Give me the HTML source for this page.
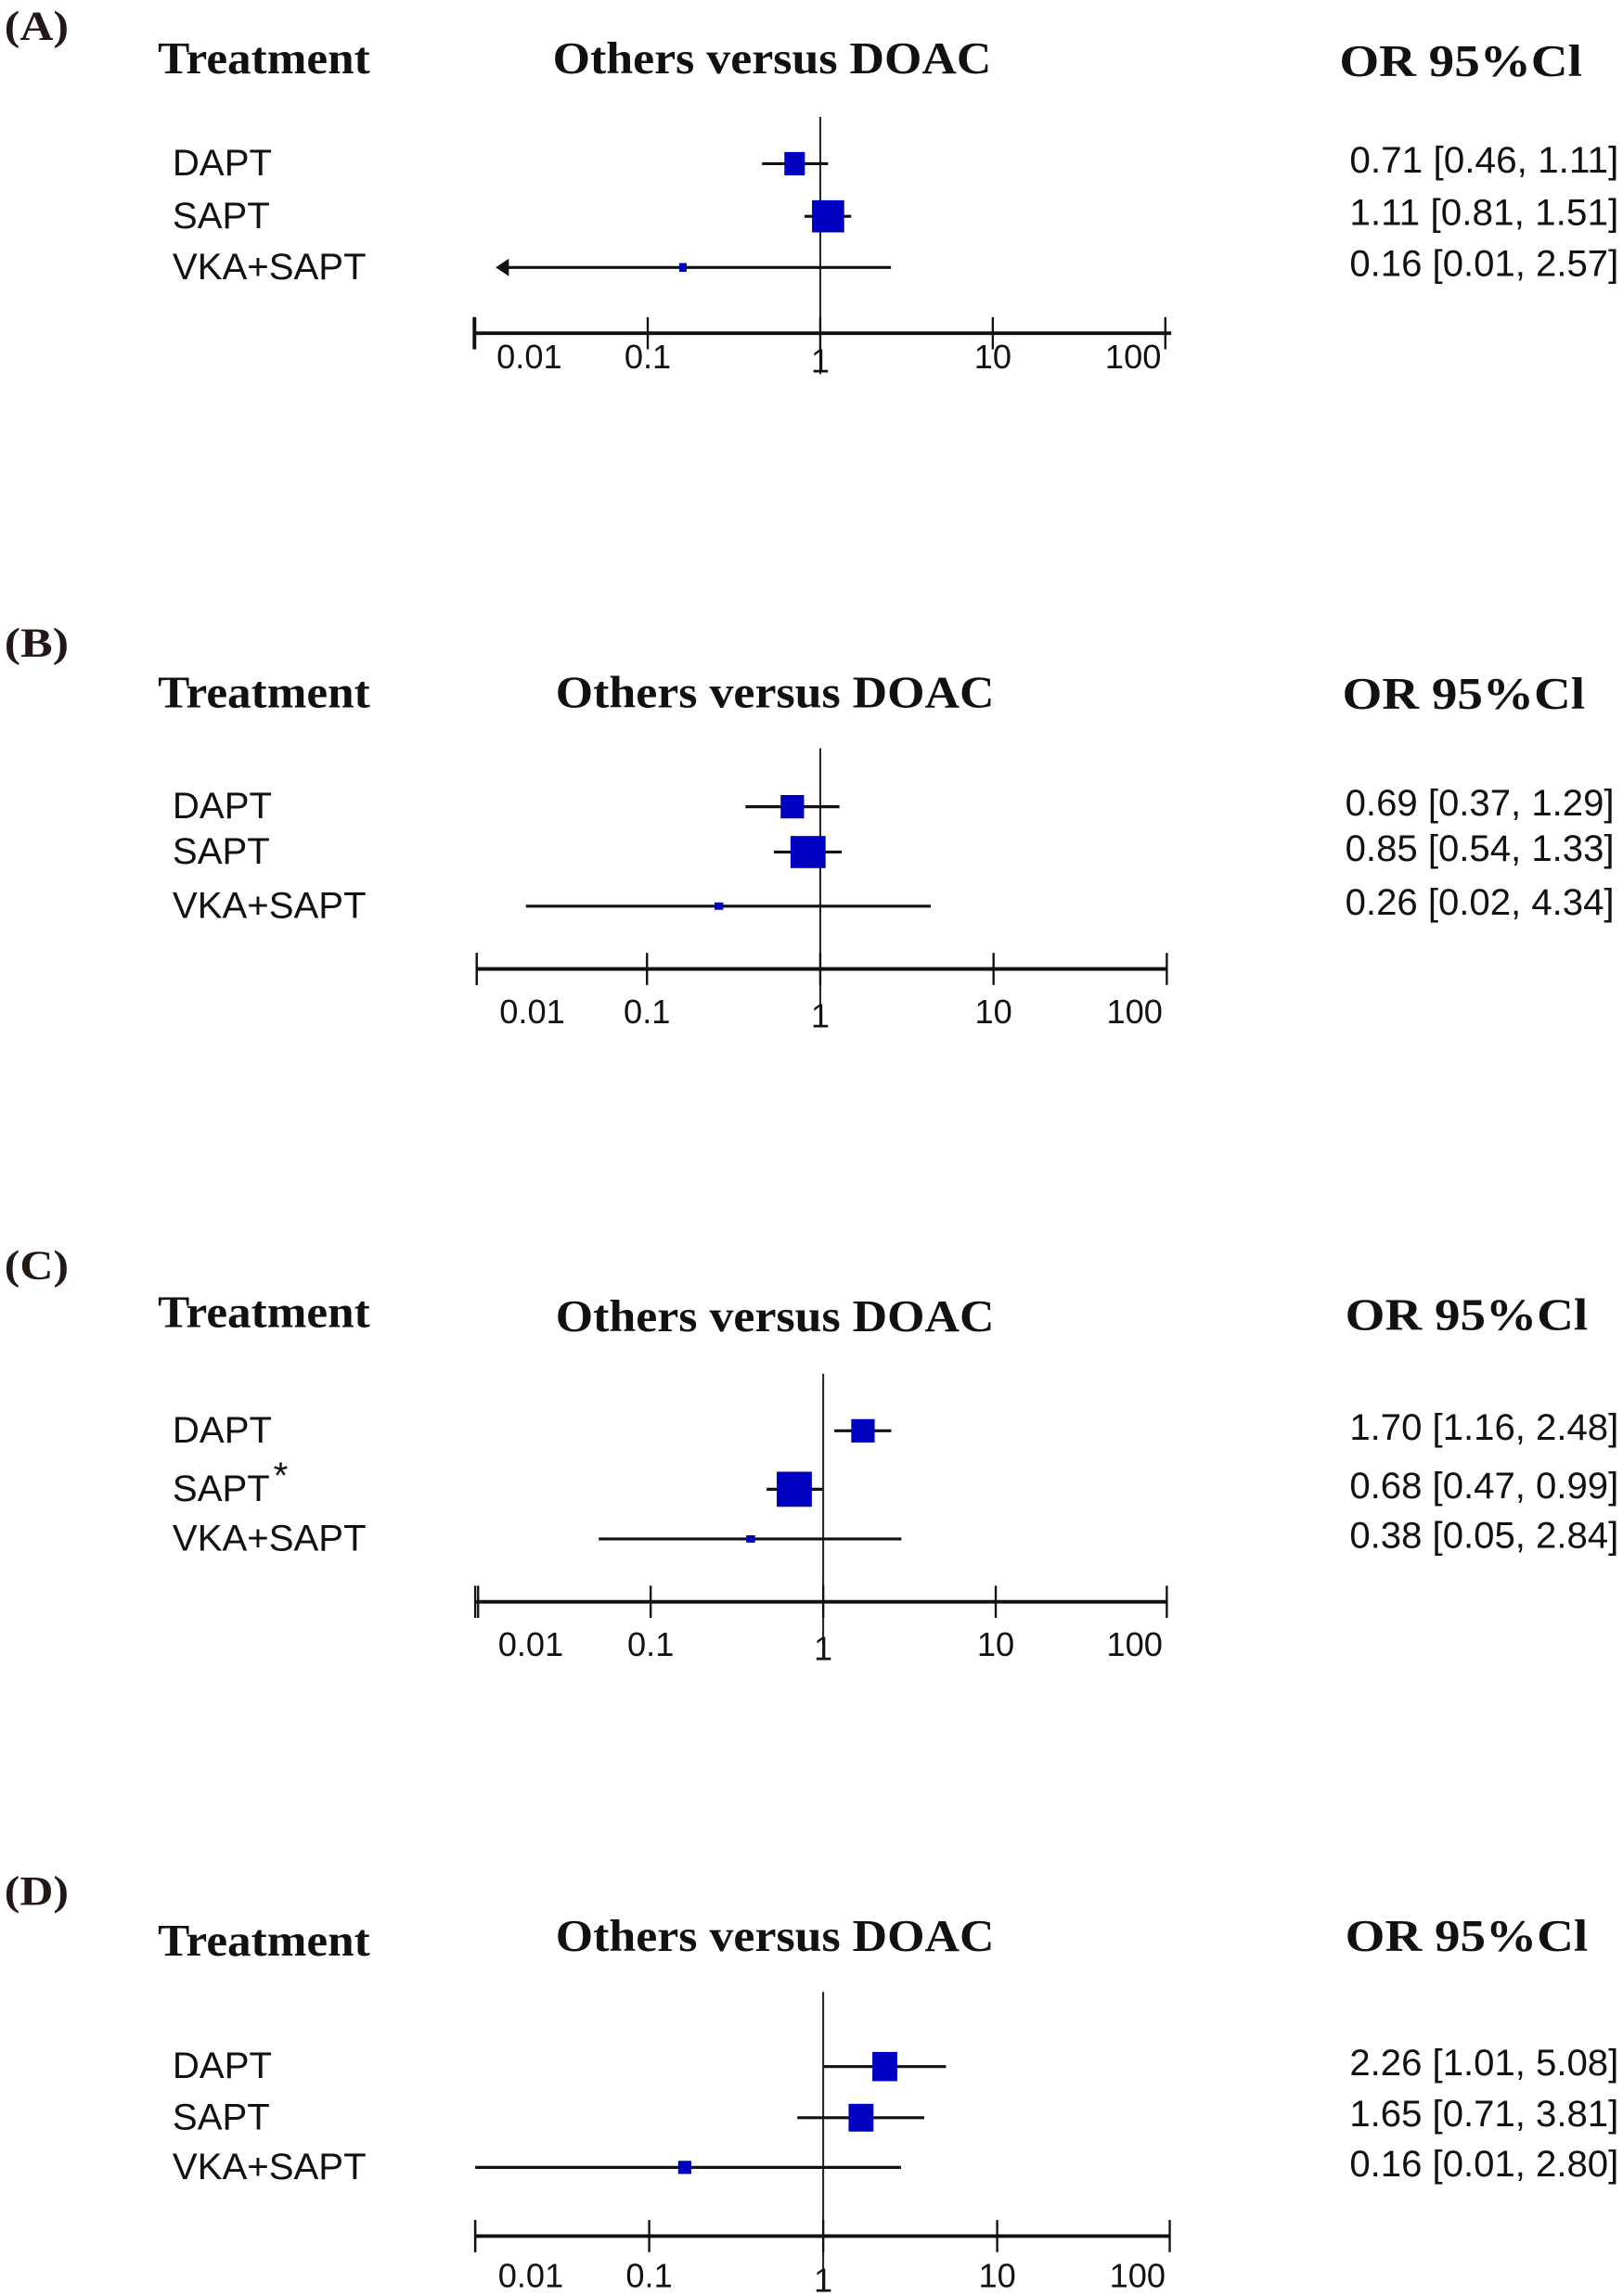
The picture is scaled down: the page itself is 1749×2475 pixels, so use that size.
<!DOCTYPE html>
<html><head><meta charset="utf-8"><style>
html,body{margin:0;padding:0;background:#fff;}
svg{display:block;}
.pl{font-family:"Liberation Serif",serif;font-weight:bold;font-size:28px;fill:#231815;}
.hd{font-family:"Liberation Serif",serif;font-weight:bold;font-size:31px;fill:#111;}
.rl{font-family:"Liberation Sans",sans-serif;font-size:25.5px;fill:#111;}
.tk{font-family:"Liberation Sans",sans-serif;font-size:23px;fill:#111;}
</style></head><body>
<svg id="chart" width="1749" height="2475" viewBox="0 0 1110 1571" preserveAspectRatio="none" xmlns="http://www.w3.org/2000/svg"></svg>
<script>
const panelLabels = ["(A)","(B)","(C)","(D)"];
const treatments = ["DAPT","SAPT","VKA+SAPT"];
const orA = [0.71,1.11,0.16], loA = [0.46,0.81,0.01], hiA = [1.11,1.51,2.57];
const orB = [0.69,0.85,0.26], loB = [0.37,0.54,0.02], hiB = [1.29,1.33,4.34];
const orC = [1.70,0.68,0.38], loC = [1.16,0.47,0.05], hiC = [2.48,0.99,2.84];
const orD = [2.26,1.65,0.16], loD = [1.01,0.71,0.01], hiD = [5.08,3.81,2.80];
const ciTextA = ["0.71 [0.46, 1.11]","1.11 [0.81, 1.51]","0.16 [0.01, 2.57]"];
const ciTextB = ["0.69 [0.37, 1.29]","0.85 [0.54, 1.33]","0.26 [0.02, 4.34]"];
const ciTextC = ["1.70 [1.16, 2.48]","0.68 [0.47, 0.99]","0.38 [0.05, 2.84]"];
const ciTextD = ["2.26 [1.01, 5.08]","1.65 [0.71, 3.81]","0.16 [0.01, 2.80]"];
const tickVals = [0.01,0.1,1,10,100];
const tickLabels = ["0.01","0.1","1","10","100"];

const NS="http://www.w3.org/2000/svg";
const svg=document.getElementById('chart');
function mk(tag,attrs,parent){const e=document.createElementNS(NS,tag);for(const k in attrs)e.setAttribute(k,attrs[k]);(parent||svg).appendChild(e);return e;}

const layouts=[
 {or:orA,lo:loA,hi:hiA,txt:ciTextA,c:561,d:118,xmin:324,xmax:801,lab:18,hdT:50,hdO:50,hdR:52,rows:[112,148,183],axis:228,tk:252,vl:[80,256],sz:[[14,16],[22,22],[5,6]],arrow:true,orX:1107,oX:378,rX:916},
 {or:orB,lo:loB,hi:hiB,txt:ciTextB,c:561,d:118.5,xmin:326,xmax:798,lab:440,hdT:484,hdO:484,hdR:485,rows:[552,583,620],axis:663,tk:700,vl:[512,690],sz:[[16,16],[24,22],[6,5]],arrow:false,orX:1104,oX:380,rX:918},
 {or:orC,lo:loC,hi:hiC,txt:ciTextC,c:563,d:118,xmin:325,xmax:798,lab:866,hdT:908,hdO:911,hdR:910,rows:[979,1019,1053],axis:1096,tk:1133,vl:[940,1125],sz:[[16,16],[24,24],[6,5]],arrow:false,orX:1107,oX:380,rX:920},
 {or:orD,lo:loD,hi:hiD,txt:ciTextD,c:563,d:119,xmin:325,xmax:800,lab:1294,hdT:1338,hdO:1335,hdR:1335,rows:[1414,1449,1483],axis:1530,tk:1565,vl:[1363,1568],sz:[[17,20],[17,19],[9,9]],arrow:false,orX:1107,oX:380,rX:920}
];

layouts.forEach((L,p)=>{
 const g=mk('g',{});
 
 
 const x=v=>L.c+L.d*Math.log10(v);
 let t=mk('text',{x:3,y:L.lab+9,class:'pl',textLength:44,lengthAdjust:'spacingAndGlyphs'},g);t.textContent=panelLabels[p];
 
 
 t=mk('text',{x:108,y:L.hdT,class:'hd',textLength:145,lengthAdjust:'spacingAndGlyphs'},g);t.textContent='Treatment';
 
 
 t=mk('text',{x:L.oX,y:L.hdO,class:'hd',textLength:300,lengthAdjust:'spacingAndGlyphs'},g);t.textContent='Others versus DOAC';
 
 
 t=mk('text',{x:L.rX,y:L.hdR,class:'hd',textLength:166,lengthAdjust:'spacingAndGlyphs'},g);t.textContent='OR  95%Cl';
 
 
 let ln=mk('line',{x1:x(1),x2:x(1),y1:L.vl[0],y2:L.vl[1],stroke:'#222','stroke-width':1.3},g);
 
 
 ln=mk('line',{x1:L.xmin,x2:L.xmax,y1:L.axis,y2:L.axis,stroke:'#111','stroke-width':2.5},g);
 
 
 mk('line',{x1:L.xmin,x2:L.xmin,y1:L.axis-11,y2:L.axis+11,stroke:'#111','stroke-width':1.5},g);
 tickVals.forEach((v,i)=>{
  const tx=Math.max(L.xmin,Math.min(L.xmax,x(v)));
  const tl=mk('line',{x1:tx,x2:tx,y1:L.axis-11,y2:L.axis+11,stroke:'#111','stroke-width':1.5},g);
  
  
  const lx = i===0 ? L.xmin+38 : (i===4 ? tx-22 : tx);
  const ly = i===2 ? L.tk+3 : L.tk;
  const tt=mk('text',{x:lx,y:ly,class:'tk','text-anchor':'middle'},g);
  tt.textContent=tickLabels[i];
  
  
 });
 treatments.forEach((nm,r)=>{
  const y=L.rows[r];
  let rt=mk('text',{x:118,y:y+8,class:'rl'},g);rt.textContent=nm;
  
  
  if(p===2&&r===1){let s=mk('text',{x:187,y:y-1,class:'rl','font-size':28},g);s.textContent='*';
   
   }
  let x1=x(L.lo[r]);
  const useArrow=L.arrow&&r===2;
  if(useArrow) x1=342;
  const ci=mk('line',{x1:x1,x2:x(L.hi[r]),y1:y,y2:y,stroke:'#111','stroke-width':2},g);
  
  
  if(useArrow){const a=mk('polygon',{points:`${x1-3},${y} ${x1+6},${y-6} ${x1+6},${y+6}`,fill:'#111'},g);
   
   }
  const [w,h]=L.sz[r];
  const sq=mk('rect',{x:x(L.or[r])-w/2,y:y-h/2,width:w,height:h,fill:'#0000c0'},g);
  
  
  const ot=mk('text',{x:L.orX,y:y+6,class:'rl','text-anchor':'end',textLength:184,lengthAdjust:'spacingAndGlyphs'},g);ot.textContent=L.txt[r];
  
  
 });
});
</script>
</body></html>
